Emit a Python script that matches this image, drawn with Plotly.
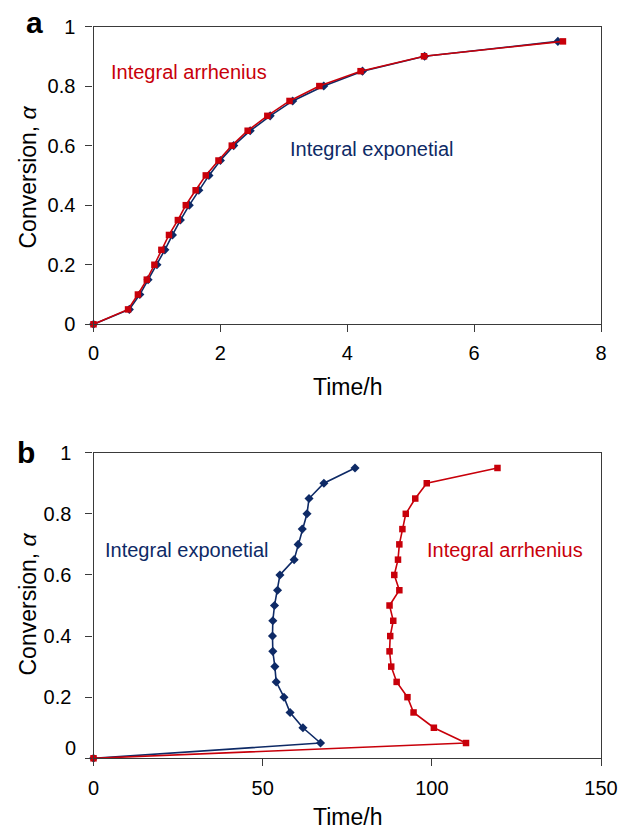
import plotly.graph_objects as go

# ---------------- data ----------------
conv = [0, 0.05, 0.1, 0.15, 0.2, 0.25, 0.3, 0.35, 0.4, 0.45, 0.5,
        0.55, 0.6, 0.65, 0.7, 0.75, 0.8, 0.85, 0.9, 0.95]

# panel a (time in h)
a_exp = [0, 0.565, 0.73, 0.86, 1.0, 1.125, 1.245, 1.37, 1.51, 1.66, 1.82,
         2.0, 2.21, 2.47, 2.785, 3.14, 3.63, 4.24, 5.22, 7.32]
a_arr = [0, 0.545, 0.70, 0.84, 0.96, 1.07, 1.19, 1.33, 1.455, 1.61, 1.77,
         1.97, 2.18, 2.43, 2.74, 3.09, 3.56, 4.21, 5.21, 7.40]

# panel b (time in h)
b_exp = [0, 67.1, 61.9, 58.1, 56.3, 54.0, 53.6, 53.0, 52.9, 53.0, 53.5,
         54.4, 55.1, 59.3, 60.5, 61.7, 63.1, 63.7, 68.1, 77.3]
b_arr = [0, 110.1, 100.6, 94.6, 92.8, 89.6, 88.0, 87.5, 87.7, 88.6, 87.5,
         90.4, 88.9, 90.0, 90.4, 91.3, 92.3, 95.1, 98.5, 119.4]

a_xticks = [0, 2, 4, 6, 8]
b_xticks = [0, 50, 100, 150]
y_ticks = [0, 0.2, 0.4, 0.6, 0.8, 1]
y_ticktext_a = ["0", "0.2", "0.4", "0.6", "0.8", "1"]
y_ticktext_b = ["", "0.2", "0.4", "0.6", "0.8", "1"]

RED = "#C8000A"
NAVY = "#0E2A66"
FONT = "Liberation Sans, Arial, Helvetica, sans-serif"
W, H = 622, 830

fig = go.Figure()

def add_pair(xe, xa, xref, yref):
    fig.add_trace(go.Scatter(x=xe, y=conv, mode="lines+markers", xaxis=xref, yaxis=yref,
                             line=dict(color=NAVY, width=1.6),
                             marker=dict(symbol="diamond", size=7, color=NAVY),
                             showlegend=False, cliponaxis=False))
    fig.add_trace(go.Scatter(x=xa, y=conv, mode="lines+markers", xaxis=xref, yaxis=yref,
                             line=dict(color=RED, width=1.6),
                             marker=dict(symbol="square", size=6.5, color=RED),
                             showlegend=False, cliponaxis=False))

add_pair(a_exp, a_arr, "x", "y")
add_pair(b_exp, b_arr, "x2", "y2")

xdom = [93.5 / W, 601 / W]
ya_dom = [1 - 324.3 / H, 1 - 26.5 / H]
yb_dom = [1 - 758.3 / H, 1 - 452.7 / H]

axis_common = dict(showgrid=False, zeroline=False, showline=True, mirror=True,
                   automargin=False,
                   linecolor="#3a3a3a", linewidth=1.3, ticks="outside", ticklen=7,
                   tickcolor="#3a3a3a", tickwidth=1.3,
                   tickfont=dict(family=FONT, size=20, color="black"))

fig.update_layout(
    width=W, height=H, margin=dict(l=0, r=0, t=0, b=0),
    paper_bgcolor="white", plot_bgcolor="white",
    xaxis=dict(domain=xdom, range=[0, 8], tickvals=a_xticks, anchor="y",
               ticklabelstandoff=4, **axis_common),
    yaxis=dict(domain=ya_dom, range=[0, 1], tickvals=y_ticks, ticktext=y_ticktext_a,
               anchor="x", ticklabelstandoff=6, **axis_common),
    xaxis2=dict(domain=xdom, range=[0, 150], tickvals=b_xticks, anchor="y2",
                ticklabelstandoff=5, **axis_common),
    yaxis2=dict(domain=yb_dom, range=[0, 1], tickvals=y_ticks, ticktext=y_ticktext_b,
                anchor="x2", ticklabelstandoff=10, **axis_common),
)

ann = []
def txt(text, x, y, xref="paper", yref="paper", size=20, color="black", xanchor="center",
        angle=0, bold=False):
    ann.append(dict(text=("<b>%s</b>" % text) if bold else text, x=x, y=y, xref=xref, yref=yref,
                    showarrow=False, xanchor=xanchor, yanchor="middle", textangle=angle,
                    font=dict(family=FONT, size=size, color=color)))

# series labels
txt("Integral arrhenius", 0.25, 0.846, "x", "y", color=RED, xanchor="left")
txt("Integral exponetial", 3.06, 0.59, "x", "y", color=NAVY, xanchor="left")
txt("Integral exponetial", 2.75, 0.68, "x2", "y2", color=NAVY, xanchor="left")
txt("Integral arrhenius", 97.9, 0.68, "x2", "y2", color=RED, xanchor="left")

# axis titles
txt("Conversion, <i>α</i>", 27.5 / W, 1 - 177 / H, size=23, angle=-90)
txt("Conversion, <i>α</i>", 27.5 / W, 1 - 604 / H, size=23, angle=-90)
txt("Time/h", 347 / W, 1 - 387 / H, size=23)
txt("Time/h", 347 / W, 1 - 817 / H, size=23)

# panel letters
txt("a", 34.5 / W, 1 - 22 / H, size=30, bold=True)
txt("b", 26 / W, 1 - 452 / H, size=30, bold=True)

# raised zero label of panel b y-axis
txt("0", 78 / W, 1 - 748 / H, xanchor="right")

fig.update_layout(annotations=ann)
fig.write_html("out.html")
